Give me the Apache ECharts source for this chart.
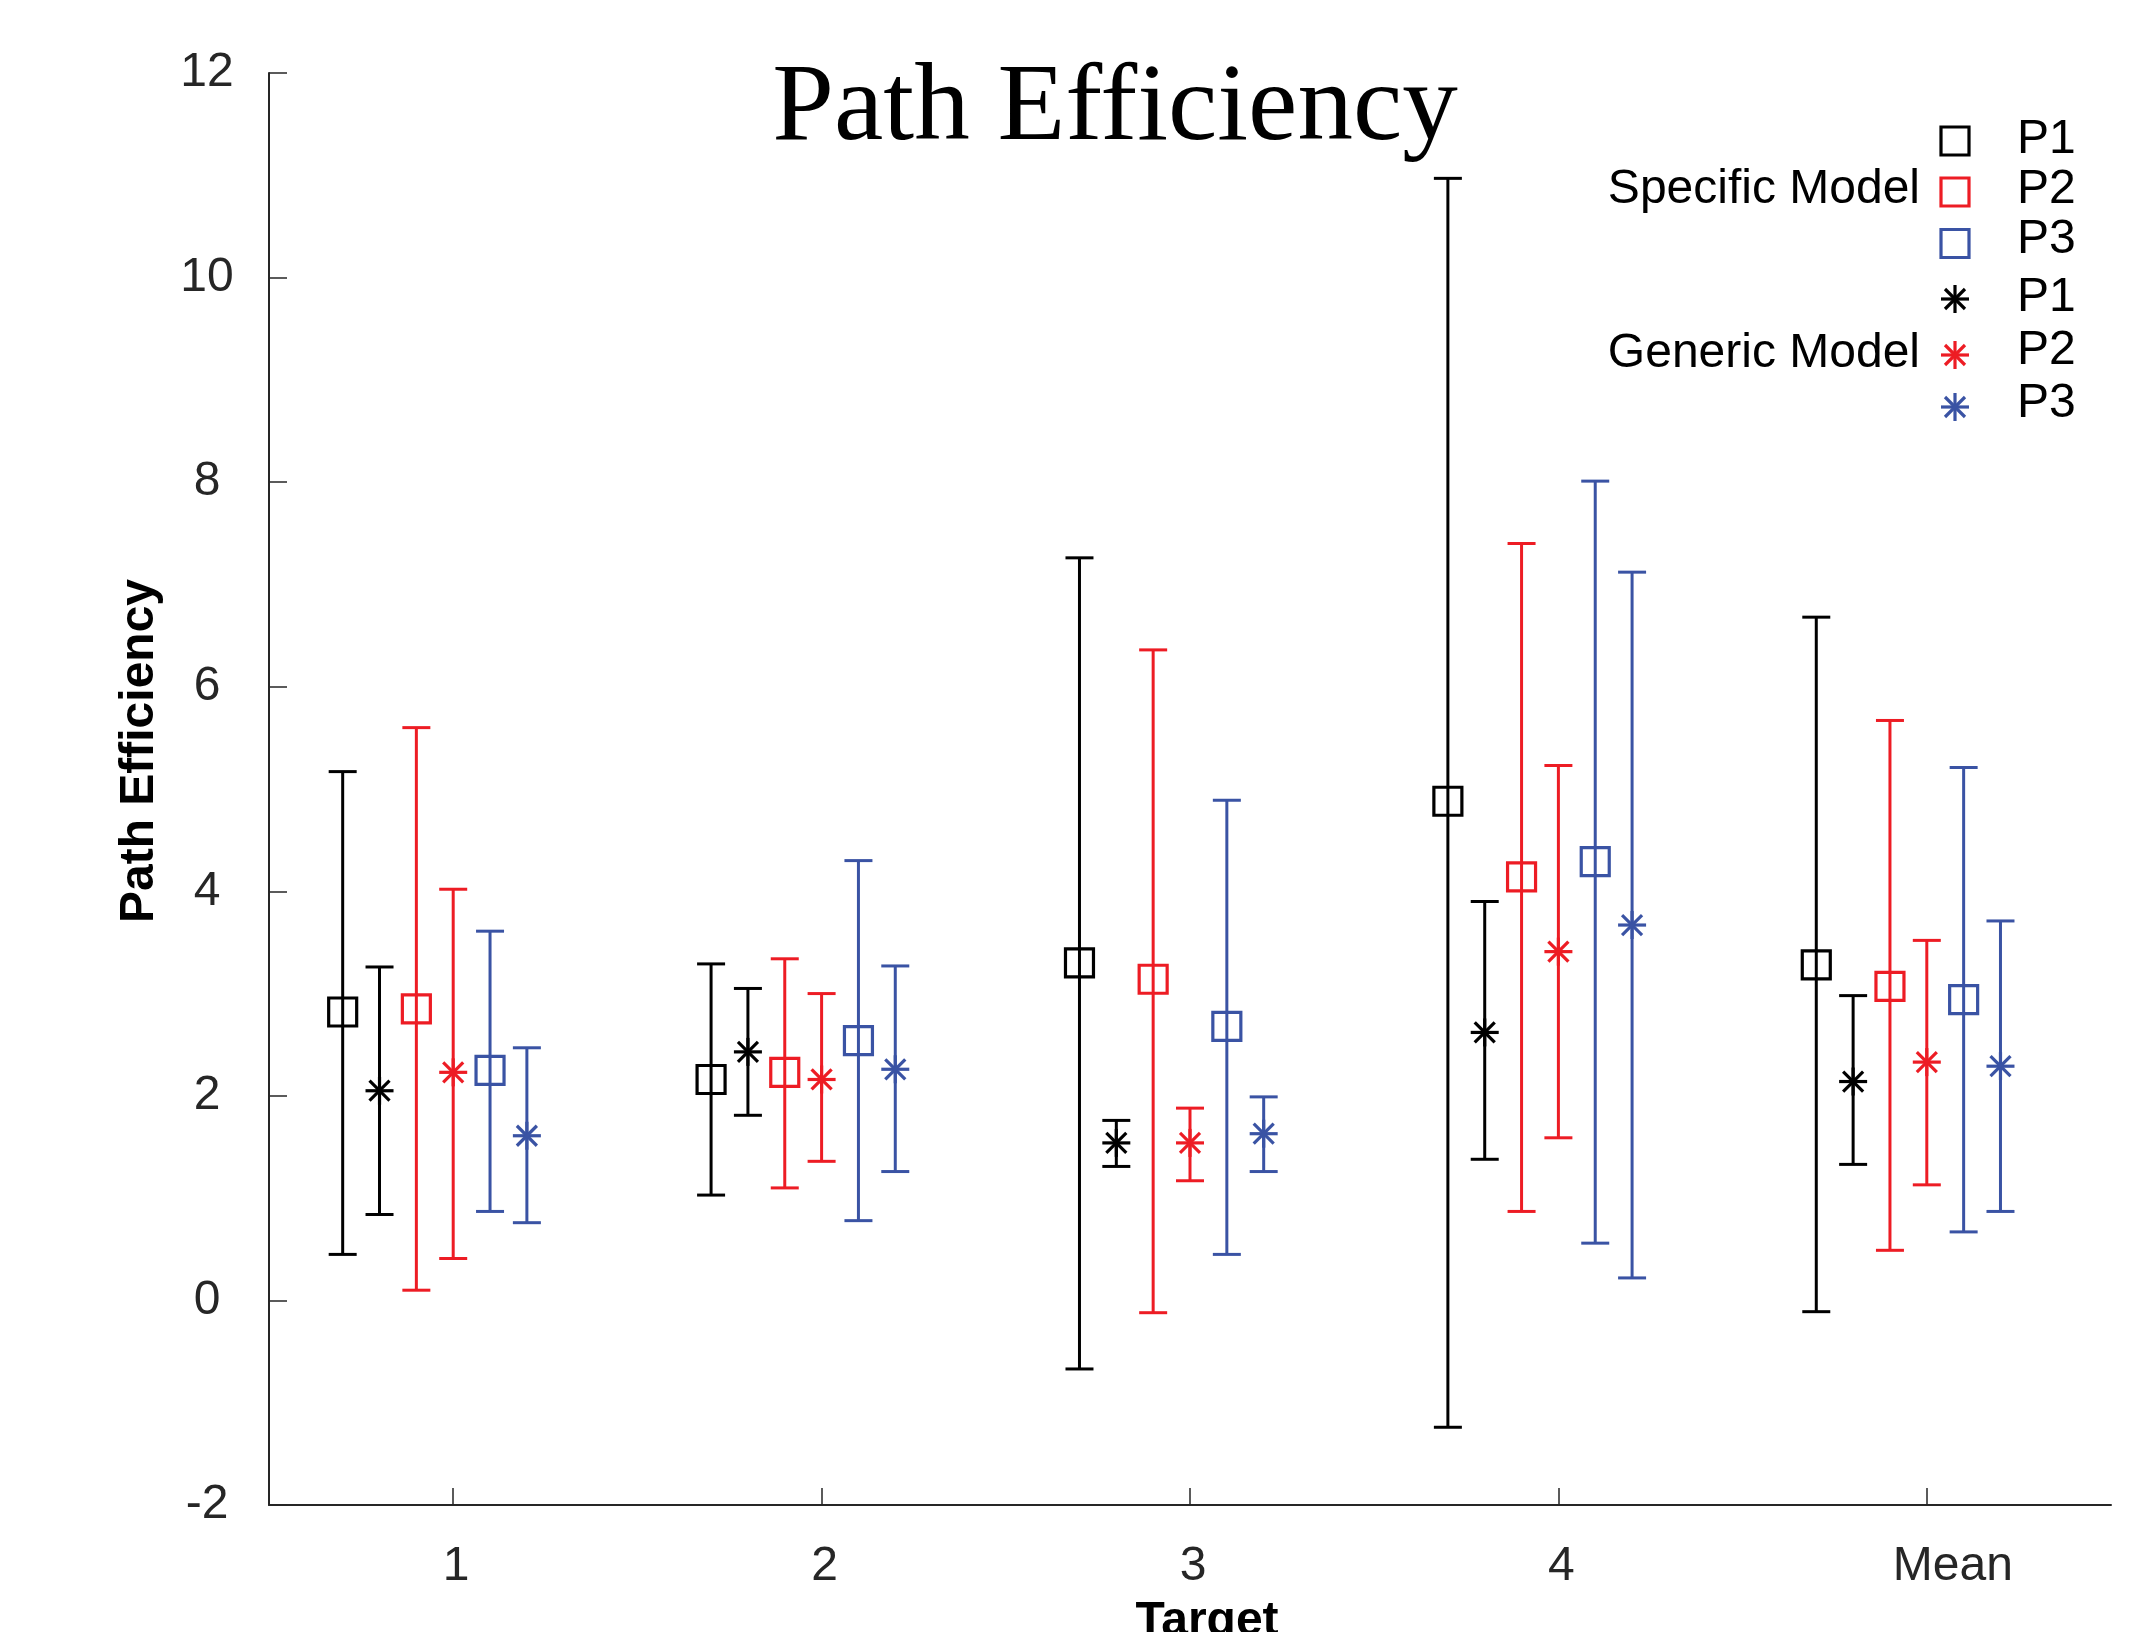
<!DOCTYPE html>
<html>
<head>
<meta charset="utf-8">
<script src="https://cdn.jsdelivr.net/npm/echarts@6/dist/echarts.min.js"></script>
<style>
html,body{margin:0;padding:0;background:#ffffff;}
#chart{width:2150px;height:1632px;}
</style>
</head>
<body>
<div id="chart"></div>
<script>
// ---------------- data ----------------
const categories = ['1', '2', '3', '4', 'Mean'];
const yMin = -2, yMax = 12, yInterval = 2;

const specP1Mean = [2.82, 2.16, 3.30, 4.88, 3.28];
const specP1Low  = [0.45, 1.03, -0.67, -1.24, -0.11];
const specP1High = [5.17, 3.29, 7.26, 10.97, 6.68];

const genP1Mean = [2.05, 2.43, 1.54, 2.62, 2.14];
const genP1Low  = [0.84, 1.81, 1.31, 1.38, 1.33];
const genP1High = [3.26, 3.05, 1.76, 3.90, 2.98];

const specP2Mean = [2.85, 2.23, 3.14, 4.14, 3.07];
const specP2Low  = [0.10, 1.10, -0.12, 0.87, 0.49];
const specP2High = [5.60, 3.34, 6.36, 7.40, 5.67];

const genP2Mean = [2.23, 2.16, 1.54, 3.41, 2.33];
const genP2Low  = [0.41, 1.36, 1.17, 1.59, 1.13];
const genP2High = [4.02, 3.00, 1.88, 5.23, 3.52];

const specP3Mean = [2.25, 2.54, 2.68, 4.29, 2.94];
const specP3Low  = [0.87, 0.78, 0.45, 0.56, 0.67];
const specP3High = [3.61, 4.30, 4.89, 8.01, 5.21];

const genP3Mean = [1.61, 2.26, 1.63, 3.67, 2.29];
const genP3Low  = [0.76, 1.26, 1.26, 0.22, 0.87];
const genP3High = [2.47, 3.27, 1.99, 7.12, 3.71];

const participants = ['P1', 'P2', 'P3'];
const modelNames = ['Specific Model', 'Generic Model'];

// ---------------- styles ----------------
const BLACK = '#000000', RED = '#ED1C24', BLUE = '#3A53A4';
const AXIS_COLOR = '#262626';
const SANS = "'Liberation Sans', Arial, Helvetica, sans-serif";
const SERIF = "'Liberation Serif', 'Times New Roman', serif";

const seriesDefs = [
  { name: 'Specific Model P1', mean: specP1Mean, low: specP1Low, high: specP1High, color: BLACK, marker: 'square' },
  { name: 'Generic Model P1',  mean: genP1Mean,  low: genP1Low,  high: genP1High,  color: BLACK, marker: 'star' },
  { name: 'Specific Model P2', mean: specP2Mean, low: specP2Low, high: specP2High, color: RED,   marker: 'square' },
  { name: 'Generic Model P2',  mean: genP2Mean,  low: genP2Low,  high: genP2High,  color: RED,   marker: 'star' },
  { name: 'Specific Model P3', mean: specP3Mean, low: specP3Low, high: specP3High, color: BLUE,  marker: 'square' },
  { name: 'Generic Model P3',  mean: genP3Mean,  low: genP3Low,  high: genP3High,  color: BLUE,  marker: 'star' }
];

const LINE_W = 3;
const CAP_HALF = 14;
const SQ = 28;
const STAR_R = 14, STAR_D = 10;

function markerShape(type, cx, cy, color) {
  if (type === 'square') {
    return {
      type: 'rect',
      shape: { x: cx - SQ / 2, y: cy - SQ / 2, width: SQ, height: SQ },
      style: { fill: null, stroke: color, lineWidth: 3.2 }
    };
  }
  const st = { stroke: color, lineWidth: 3.2, fill: null };
  return {
    type: 'group',
    children: [
      { type: 'line', shape: { x1: cx - STAR_R, y1: cy, x2: cx + STAR_R, y2: cy }, style: st },
      { type: 'line', shape: { x1: cx, y1: cy - STAR_R, x2: cx, y2: cy + STAR_R }, style: st },
      { type: 'line', shape: { x1: cx - STAR_D, y1: cy - STAR_D, x2: cx + STAR_D, y2: cy + STAR_D }, style: st },
      { type: 'line', shape: { x1: cx - STAR_D, y1: cy + STAR_D, x2: cx + STAR_D, y2: cy - STAR_D }, style: st }
    ]
  };
}

function makeSeries(def, k) {
  const data = categories.map((c, i) => [i, def.mean[i], def.low[i], def.high[i]]);
  return {
    type: 'custom',
    name: def.name,
    data: data,
    encode: { x: 0, y: [1, 2, 3] },
    clip: false,
    renderItem: function (params, api) {
      const cat = api.value(0);
      const bw = api.size([1, 0])[0];
      const off = (k * 0.1 - 0.3) * bw;
      const pm = api.coord([cat, api.value(1)]);
      const pl = api.coord([cat, api.value(2)]);
      const ph = api.coord([cat, api.value(3)]);
      const x = pm[0] + off;
      const st = { stroke: def.color, lineWidth: LINE_W, fill: null };
      return {
        type: 'group',
        children: [
          { type: 'line', shape: { x1: x, y1: ph[1], x2: x, y2: pl[1] }, style: st },
          { type: 'line', shape: { x1: x - CAP_HALF, y1: ph[1], x2: x + CAP_HALF, y2: ph[1] }, style: st },
          { type: 'line', shape: { x1: x - CAP_HALF, y1: pl[1], x2: x + CAP_HALF, y2: pl[1] }, style: st },
          markerShape(def.marker, x, pm[1], def.color)
        ]
      };
    }
  };
}

// ---------------- legend (graphic) ----------------
const legendMarkerX = 1955;
const legendTextX = 2017;
const legendRowsY = [[141, 192, 243.5], [299, 355, 407]];
const legendTextY = [[140, 190, 240], [298, 351, 404]];
const groupLabelY = [190, 354];
const legendGraphics = [];
seriesDefs.forEach((def, idx) => {
  const g = idx % 2;          // 0 specific, 1 generic
  const p = Math.floor(idx / 2);
  const cy = legendRowsY[g][p];
  const m = markerShape(def.marker, legendMarkerX, cy, def.color);
  m.z = 100;
  legendGraphics.push(m);
  legendGraphics.push({
    type: 'text', z: 100,
    style: {
      x: legendTextX, y: legendTextY[g][p], text: participants[p],
      font: '48px ' + SANS, fill: '#000000',
      textAlign: 'left', textVerticalAlign: 'middle'
    }
  });
});
modelNames.forEach((m, g) => {
  legendGraphics.push({
    type: 'text', z: 100,
    style: {
      x: 1920, y: groupLabelY[g], text: m,
      font: '48px ' + SANS, fill: '#000000',
      textAlign: 'right', textVerticalAlign: 'middle'
    }
  });
});

const titleGraphic = {
  type: 'text', z: 100,
  style: {
    x: 1115, y: 110, text: 'Path Efficiency',
    font: '111px ' + SERIF, fill: '#000000',
    textAlign: 'center', textVerticalAlign: 'middle'
  }
};

// ---------------- chart ----------------
const chart = echarts.init(document.getElementById('chart'), null, { renderer: 'canvas' });
chart.setOption({
  backgroundColor: '#ffffff',
  animation: false,
  grid: { left: 269, right: 39, top: 73, bottom: 127, containLabel: false, outerBoundsMode: 'none' },
  xAxis: {
    type: 'category',
    data: categories,
    boundaryGap: true,
    name: 'Target',
    nameLocation: 'middle',
    nameGap: 93,
    nameTextStyle: { fontFamily: SANS, fontSize: 48, fontWeight: 'bold', color: '#000000', padding: [0, 0, 0, 34] },
    axisLine: { show: true, onZero: false, lineStyle: { color: AXIS_COLOR, width: 2 } },
    axisTick: { show: true, inside: true, length: 17, alignWithLabel: true, lineStyle: { color: AXIS_COLOR, width: 1.5 } },
    axisLabel: {
      margin: 38,
      fontFamily: SANS, fontSize: 48, color: AXIS_COLOR,
      formatter: function (v) { return v === 'Mean' ? '{m|' + v + '}' : '{n|' + v + '}'; },
      rich: {
        n: { fontFamily: SANS, fontSize: 48, color: AXIS_COLOR, padding: [0, 0, 0, 6] },
        m: { fontFamily: SANS, fontSize: 48, color: AXIS_COLOR, padding: [0, 0, 0, 52] }
      }
    },
    splitLine: { show: false }
  },
  yAxis: {
    type: 'value',
    min: yMin, max: yMax, interval: yInterval,
    name: 'Path Efficiency',
    nameLocation: 'middle',
    nameGap: 105,
    nameTextStyle: { fontFamily: SANS, fontSize: 48, fontWeight: 'bold', color: '#000000', padding: [0, 0, 0, 76] },
    axisLine: { show: true, lineStyle: { color: AXIS_COLOR, width: 2 } },
    axisTick: { show: true, inside: true, length: 18, lineStyle: { color: AXIS_COLOR, width: 1.5 } },
    axisLabel: {
      margin: 62, align: 'center',
      fontFamily: SANS, fontSize: 48, color: AXIS_COLOR,
      padding: [0, 0, 16, 0]
    },
    splitLine: { show: false }
  },
  graphic: [titleGraphic].concat(legendGraphics),
  series: seriesDefs.map(makeSeries)
});
</script>
</body>
</html>
